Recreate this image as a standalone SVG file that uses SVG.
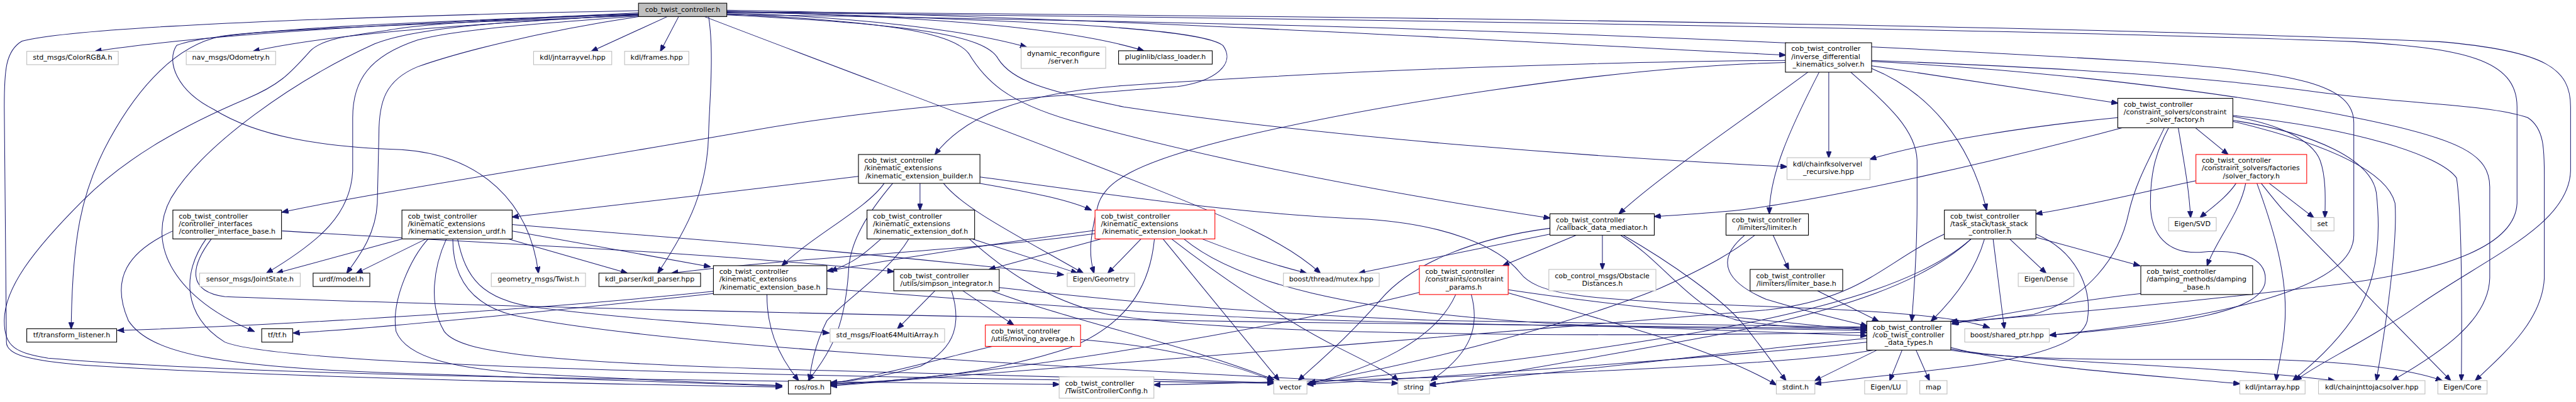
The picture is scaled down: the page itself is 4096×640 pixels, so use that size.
<svg xmlns="http://www.w3.org/2000/svg" width="4096" height="640" viewBox="0 0 4096 640">
<style>
.e{fill:none;stroke:#191970;stroke-width:1.2;marker-end:url(#a)}
.nb{fill:#fff;stroke:#000;stroke-width:1.3}
.ng{fill:#fff;stroke:#bfbfbf;stroke-width:1.3}
.nr{fill:#fff;stroke:#ff0000;stroke-width:1.3}
.nroot{fill:#bfbfbf;stroke:#000;stroke-width:1.3}
text{font-family:"DejaVu Sans","Liberation Sans",sans-serif;font-size:13px;fill:#000}
.c{text-anchor:middle}
</style>
<defs>
<marker id="a" markerWidth="13" markerHeight="10" refX="12" refY="5" orient="auto" markerUnits="userSpaceOnUse"><path d="M0,0 L13,5 L0,10 z" fill="#191970" stroke="#191970" stroke-width="1"/></marker>
</defs>
<rect width="4096" height="640" fill="#fff"/>
<g transform="scale(0.851)">
<g id="edges">
<path class="e" d="M1193,24 C900,38 420,58 178,96"/>
<path class="e" d="M1193,27 C950,42 640,58 473,96"/>
<path class="e" d="M1247,31 L1105,96"/>
<path class="e" d="M1268,31 L1234,96"/>
<path class="e" d="M1358,24 C1600,32 1800,55 1918,88"/>
<path class="e" d="M1358,22 C1750,30 2010,55 2137,95"/>
<path class="e" d="M1358,19 C2100,32 3000,88 3336,103"/>
<path class="e" d="M1358,21 C1900,38 2240,50 2285,85 C2310,120 2270,152 2200,162 C1900,185 1650,200 1400,245 C1000,315 700,360 527,397"/>
<path class="e" d="M1193,30 C1000,45 850,55 780,75 C690,105 659,150 659,220 L659,320 C655,400 600,450 498,511"/>
<path class="e" d="M1193,31 C1000,60 850,100 780,125 C720,150 708,190 708,250 L705,380 C702,440 670,480 648,511"/>
<path class="e" d="M1193,29 C800,45 500,55 413,68 C330,85 260,160 205,260 C150,360 135,450 133,615"/>
<path class="e" d="M1193,28 C950,40 780,50 700,82 C550,150 380,270 320,370 C270,460 330,560 475,620"/>
<path class="e" d="M1193,20 C700,30 150,48 41,77 C10,95 8,133 8,200 L12,640 C12,665 60,675 155,683 C500,705 1100,718 1461,724"/>
<path class="e" d="M1193,27 C950,35 780,45 723,57 C640,68 600,75 580,95 C540,140 520,160 460,185 C330,240 230,300 155,375 C60,470 8,540 8,600 C8,650 30,660 90,670 C500,705 1300,712 1979,719"/>
<path class="e" d="M1193,26 C800,40 400,55 330,85 C310,115 330,170 400,205 C480,255 600,275 750,280 C900,290 990,380 1006,511"/>
<path class="e" d="M1324,31 C1335,100 1325,200 1324,250 C1322,350 1290,420 1229,511"/>
<path class="e" d="M1316,31 C1600,140 1950,270 2150,350 C2300,410 2400,450 2467,511"/>
<path class="e" d="M1358,28 C1700,45 1840,65 1865,110 C1890,150 1950,170 2100,200 C2500,260 3000,295 3339,312"/>
<path class="e" d="M1358,26 C1650,40 1780,60 1810,100 C1840,150 1880,190 2000,225 C2300,310 2650,370 2896,408"/>
<path class="e" d="M1358,23 C2500,35 3800,55 4400,78 C4600,90 4703,110 4703,200 L4703,380 C4700,450 4600,510 4300,540 C4000,575 3800,590 3648,604"/>
<path class="e" d="M1358,27 C2200,40 3000,55 4000,115 C4300,135 4398,160 4398,230 L4398,440 C4398,530 4200,590 3830,627"/>
<path class="e" d="M1358,22 C2500,30 3800,45 4558,78 C4760,95 4803,130 4803,200 L4803,320 C4800,420 4650,480 4520,570 C4420,640 4330,680 4289,712"/>
<path class="e" d="M3336,113 C3000,115 2500,132 2100,160 C1900,175 1800,220 1747,289"/>
<path class="e" d="M3336,117 C3000,125 2550,200 2300,260 C2120,305 2060,340 2050,390 C2035,450 2035,480 2044,511"/>
<path class="e" d="M3417,135 L3417,295"/>
<path class="e" d="M3399,135 C3340,250 3306,330 3306,400"/>
<path class="e" d="M3378,135 C3250,230 3100,330 3025,400"/>
<path class="e" d="M3458,135 C3520,190 3580,240 3582,300 L3582,380 C3582,480 3575,560 3572,601"/>
<path class="e" d="M3497,128 C3600,170 3680,260 3712,393"/>
<path class="e" d="M3497,123 L3957,193"/>
<path class="e" d="M3497,113 C3800,125 4100,140 4336,173 C4500,195 4650,195 4723,220 C4754,240 4754,280 4754,330 L4754,520 C4750,600 4680,660 4625,712"/>
<path class="e" d="M3497,115 C3800,130 4150,170 4400,220 C4600,260 4652,290 4652,350 L4652,520 C4650,600 4560,660 4470,712"/>
<path class="e" d="M3957,220 C3800,235 3600,265 3494,298"/>
<path class="e" d="M3965,239 C3700,310 3400,375 3250,393 C3180,400 3120,403 3091,405"/>
<path class="e" d="M4102,239 L4163,289"/>
<path class="e" d="M4044,239 C4020,290 3990,340 3977,400 C3960,480 3900,560 3800,588 C3730,598 3680,600 3645,601"/>
<path class="e" d="M4052,239 C4025,290 4018,330 4018,380 C4018,440 4050,475 4110,472 C4180,465 4240,480 4232,530 C4220,580 4100,605 3830,627"/>
<path class="e" d="M4070,239 C4080,300 4090,350 4093,407"/>
<path class="e" d="M4172,218 C4250,230 4320,260 4335,300 C4346,330 4345,370 4344,407"/>
<path class="e" d="M4172,225 C4330,250 4430,300 4440,360 C4450,450 4440,530 4400,590 C4360,650 4310,690 4284,712"/>
<path class="e" d="M4172,227 C4350,270 4460,320 4475,380 C4480,450 4460,600 4440,712"/>
<path class="e" d="M4172,216 C4400,240 4560,290 4590,333 C4600,400 4600,600 4599,712"/>
<path class="e" d="M4178,343 C4160,370 4130,390 4111,407"/>
<path class="e" d="M4196,343 C4185,400 4140,450 4124,497"/>
<path class="e" d="M4217,343 C4245,420 4270,500 4270,580 C4270,640 4255,690 4253,712"/>
<path class="e" d="M4225,343 C4240,362 4250,375 4265,392 L4579,712"/>
<path class="e" d="M4240,343 L4323,407"/>
<path class="e" d="M4103,338 C4000,360 3900,385 3804,400"/>
<path class="e" d="M4001,549 C3900,560 3780,580 3647,606"/>
<path class="e" d="M3755,447 L3823,511"/>
<path class="e" d="M3724,447 L3745,615"/>
<path class="e" d="M3708,447 C3690,510 3650,560 3608,601"/>
<path class="e" d="M3683,447 C3600,520 3450,570 3200,617 C2900,670 2600,700 2442,718"/>
<path class="e" d="M3683,447 C3600,525 3450,580 3200,628 C3000,665 2800,700 2671,721"/>
<path class="e" d="M3804,438 C3880,470 3910,540 3900,600 C3880,680 3600,690 3391,718"/>
<path class="e" d="M3804,444 L3998,497"/>
<path class="e" d="M3633,438 C3520,490 3480,560 3300,580 C2800,620 2000,690 1552,722"/>
<path class="e" d="M3645,650 C3800,690 4000,700 4185,718"/>
<path class="e" d="M3645,653 C3800,680 4100,680 4362,712"/>
<path class="e" d="M3645,655 C3800,680 4100,670 4258,673 C4400,678 4500,690 4563,712"/>
<path class="e" d="M3554,655 L3531,712"/>
<path class="e" d="M3580,655 L3605,712"/>
<path class="e" d="M3507,655 L3391,712"/>
<path class="e" d="M3488,633 C3300,650 3000,690 2671,719"/>
<path class="e" d="M3488,640 C3300,660 2800,700 2442,719"/>
<path class="e" d="M3500,655 C3300,690 2600,710 2156,720"/>
<path class="e" d="M2945,440 L2808,497"/>
<path class="e" d="M2994,440 L2994,504"/>
<path class="e" d="M2896,438 L2539,511"/>
<path class="e" d="M2896,427 C2760,445 2640,490 2580,560 C2520,630 2460,680 2426,712"/>
<path class="e" d="M3028,440 C3110,490 3160,580 3250,600 C3350,615 3420,615 3488,612"/>
<path class="e" d="M3033,440 C3120,490 3220,560 3260,610 C3300,660 3320,690 3337,712"/>
<path class="e" d="M2749,551 C2765,610 2750,660 2674,712"/>
<path class="e" d="M2720,551 C2680,640 2560,690 2446,718"/>
<path class="e" d="M2652,547 C2400,610 1900,700 1552,720"/>
<path class="e" d="M2818,542 C3000,570 3300,600 3488,618"/>
<path class="e" d="M2818,548 C3000,600 3200,650 3319,720"/>
<path class="e" d="M3313,440 L3342,504"/>
<path class="e" d="M3260,440 C3200,490 3230,530 3300,560 C3400,590 3450,600 3489,610"/>
<path class="e" d="M3279,440 C3240,470 3200,495 3100,540 C2900,620 2600,690 2446,716"/>
<path class="e" d="M3396,544 L3510,601"/>
<path class="e" d="M2132,447 L2070,511"/>
<path class="e" d="M2057,447 L1848,504"/>
<path class="e" d="M2046,431 C1900,450 1700,480 1545,507"/>
<path class="e" d="M2046,437 C1800,470 1500,480 1255,511"/>
<path class="e" d="M2157,447 C2150,520 2120,600 2000,650 C1850,700 1700,712 1552,718"/>
<path class="e" d="M2173,447 L2390,712"/>
<path class="e" d="M2189,447 C2270,510 2400,600 2500,650 C2560,680 2600,700 2612,712"/>
<path class="e" d="M2212,447 C2300,520 2500,590 3000,610 C3300,620 3420,625 3488,628"/>
<path class="e" d="M2246,447 C2330,480 2380,495 2441,511"/>
<path class="e" d="M1604,330 C1400,355 1100,390 957,406"/>
<path class="e" d="M1719,343 L1719,393"/>
<path class="e" d="M1831,343 C1930,360 2000,375 2039,393"/>
<path class="e" d="M1652,343 C1620,390 1520,440 1461,497"/>
<path class="e" d="M1668,343 C1620,400 1590,450 1586,500 C1580,600 1560,650 1510,712"/>
<path class="e" d="M1763,343 C1800,390 1900,440 2024,511"/>
<path class="e" d="M1831,331 C2050,360 2300,400 2555,410 C2700,420 2800,460 2840,510 C2870,550 2950,560 3210,570 C3500,580 3650,590 3717,613"/>
<path class="e" d="M751,447 L517,511"/>
<path class="e" d="M796,447 L666,511"/>
<path class="e" d="M950,447 L1172,511"/>
<path class="e" d="M957,432 L1327,499"/>
<path class="e" d="M957,420 C1200,440 1600,470 1987,514"/>
<path class="e" d="M800,447 C770,480 730,560 740,620 C760,670 850,690 1000,700 C1200,710 1350,718 1461,721"/>
<path class="e" d="M855,447 C870,520 900,560 1000,575 C1200,600 1400,610 1549,623"/>
<path class="e" d="M834,447 C810,500 800,570 830,620 C860,660 1000,680 1610,695 C2000,705 2300,712 2380,716"/>
<path class="e" d="M846,447 C846,520 880,570 960,590 C1200,640 1800,680 2612,717"/>
<path class="e" d="M527,432 C900,455 1300,470 1670,508"/>
<path class="e" d="M395,447 C355,500 350,545 420,555 C800,570 1600,590 2410,603 C3000,610 3300,612 3488,615"/>
<path class="e" d="M323,432 C240,470 205,520 240,600 C280,660 400,690 810,700 C1100,710 1300,718 1461,722"/>
<path class="e" d="M385,447 C340,510 340,590 420,640 C520,680 1200,700 2380,717"/>
<path class="e" d="M1433,551 C1433,610 1450,660 1492,712"/>
<path class="e" d="M1333,545 C1000,580 500,610 220,618"/>
<path class="e" d="M1333,549 C1100,575 700,615 548,623"/>
<path class="e" d="M1545,540 C1800,560 2200,590 2410,597 C2900,612 3300,615 3488,618"/>
<path class="e" d="M1646,447 C1620,470 1600,490 1552,507"/>
<path class="e" d="M1698,447 C1660,510 1580,560 1545,600 C1520,650 1515,690 1512,712"/>
<path class="e" d="M1817,447 L2013,511"/>
<path class="e" d="M1811,447 C1870,500 1950,560 2065,587 C2300,630 3000,630 3488,622"/>
<path class="e" d="M1747,544 L1677,615"/>
<path class="e" d="M1799,544 L1894,608"/>
<path class="e" d="M1778,544 C1795,600 1790,650 1720,685 C1650,705 1600,712 1552,716"/>
<path class="e" d="M1853,544 C2000,600 2200,640 2380,710"/>
<path class="e" d="M1867,538 C2100,565 2400,590 2700,600 C3100,608 3350,610 3488,612"/>
<path class="e" d="M1854,648 C1780,665 1680,695 1552,718"/>
<path class="e" d="M2019,635 C2200,650 2330,690 2380,714"/>
</g>
<g id="n_root"><rect class="nroot" x="1193" y="6" width="165" height="25"/><text class="c" x="1275.5" y="22">cob_twist_controller.h</text></g>
<g id="n_colorrgba"><rect class="ng" x="50" y="96" width="171" height="25"/><text class="c" x="135.5" y="112">std_msgs/ColorRGBA.h</text></g>
<g id="n_odometry"><rect class="ng" x="348" y="96" width="167" height="25"/><text class="c" x="431.5" y="112">nav_msgs/Odometry.h</text></g>
<g id="n_jntarrayvel"><rect class="ng" x="997" y="96" width="146" height="25"/><text class="c" x="1070" y="112">kdl/jntarrayvel.hpp</text></g>
<g id="n_frames"><rect class="ng" x="1167" y="96" width="120" height="25"/><text class="c" x="1227" y="112">kdl/frames.hpp</text></g>
<g id="n_dynreconf"><rect class="ng" x="1908" y="88" width="158" height="40"/><text x="1919" y="104">dynamic_reconfigure</text><text class="c" x="1987" y="118.5">/server.h</text></g>
<g id="n_pluginlib"><rect class="nb" x="2090" y="95" width="175" height="25"/><text class="c" x="2177.5" y="111">pluginlib/class_loader.h</text></g>
<g id="n_idks"><rect class="nb" x="3336" y="80" width="161" height="55"/><text x="3347" y="95.5">cob_twist_controller</text><text x="3347" y="110">/inverse_differential</text><text class="c" x="3416.5" y="124.5">_kinematics_solver.h</text></g>
<g id="n_chainfk"><rect class="ng" x="3339" y="295" width="155" height="41"/><text x="3350" y="311">kdl/chainfksolvervel</text><text class="c" x="3416.5" y="325.5">_recursive.hpp</text></g>
<g id="n_csfactory"><rect class="nb" x="3957" y="184" width="215" height="55"/><text x="3968" y="199.5">cob_twist_controller</text><text x="3968" y="214">/constraint_solvers/constraint</text><text class="c" x="4064.5" y="228.5">_solver_factory.h</text></g>
<g id="n_solverfactory"><rect class="nr" x="4103" y="289" width="207" height="54"/><text x="4114" y="304.5">cob_twist_controller</text><text x="4114" y="319">/constraint_solvers/factories</text><text class="c" x="4206.5" y="333.5">/solver_factory.h</text></g>
<g id="n_builder"><rect class="nb" x="1604" y="289" width="227" height="54"/><text x="1615" y="304.5">cob_twist_controller</text><text x="1615" y="319">/kinematic_extensions</text><text class="c" x="1717.5" y="333.5">/kinematic_extension_builder.h</text></g>
<g id="n_ctrlif"><rect class="nb" x="323" y="393" width="203" height="54"/><text x="334" y="408.5">cob_twist_controller</text><text x="334" y="423">/controller_interfaces</text><text class="c" x="424.5" y="437.5">/controller_interface_base.h</text></g>
<g id="n_urdfext"><rect class="nb" x="751" y="393" width="206" height="54"/><text x="762" y="408.5">cob_twist_controller</text><text x="762" y="423">/kinematic_extensions</text><text class="c" x="854" y="437.5">/kinematic_extension_urdf.h</text></g>
<g id="n_dof"><rect class="nb" x="1620" y="393" width="201" height="54"/><text x="1631" y="408.5">cob_twist_controller</text><text x="1631" y="423">/kinematic_extensions</text><text class="c" x="1720.5" y="437.5">/kinematic_extension_dof.h</text></g>
<g id="n_lookat"><rect class="nr" x="2046" y="393" width="224" height="54"/><text x="2057" y="408.5">cob_twist_controller</text><text x="2057" y="423">/kinematic_extensions</text><text class="c" x="2158" y="437.5">/kinematic_extension_lookat.h</text></g>
<g id="n_callback"><rect class="nb" x="2896" y="400" width="195" height="40"/><text x="2907" y="416">cob_twist_controller</text><text class="c" x="2993.5" y="430.5">/callback_data_mediator.h</text></g>
<g id="n_limiter"><rect class="nb" x="3225" y="400" width="154" height="40"/><text x="3236" y="416">cob_twist_controller</text><text class="c" x="3302" y="430.5">/limiters/limiter.h</text></g>
<g id="n_taskstack"><rect class="nb" x="3633" y="393" width="171" height="54"/><text x="3644" y="408.5">cob_twist_controller</text><text x="3644" y="423">/task_stack/task_stack</text><text class="c" x="3718.5" y="437.5">_controller.h</text></g>
<g id="n_svd"><rect class="ng" x="4052" y="407" width="89" height="25"/><text class="c" x="4096.5" y="423">Eigen/SVD</text></g>
<g id="n_set"><rect class="ng" x="4318" y="407" width="43" height="25"/><text class="c" x="4339.5" y="423">set</text></g>
<g id="n_jointstate"><rect class="ng" x="373" y="511" width="188" height="25"/><text class="c" x="467" y="527">sensor_msgs/JointState.h</text></g>
<g id="n_urdfmodel"><rect class="nb" x="585" y="511" width="106" height="25"/><text class="c" x="638" y="527">urdf/model.h</text></g>
<g id="n_twist"><rect class="ng" x="918" y="511" width="176" height="25"/><text class="c" x="1006" y="527">geometry_msgs/Twist.h</text></g>
<g id="n_kdlparser"><rect class="nb" x="1119" y="511" width="190" height="25"/><text class="c" x="1214" y="527">kdl_parser/kdl_parser.hpp</text></g>
<g id="n_extbase"><rect class="nb" x="1333" y="497" width="212" height="54"/><text x="1344" y="512.5">cob_twist_controller</text><text x="1344" y="527">/kinematic_extensions</text><text class="c" x="1439" y="541.5">/kinematic_extension_base.h</text></g>
<g id="n_simpson"><rect class="nb" x="1670" y="504" width="197" height="40"/><text x="1681" y="520">cob_twist_controller</text><text class="c" x="1768.5" y="534.5">/utils/simpson_integrator.h</text></g>
<g id="n_geometry"><rect class="ng" x="1994" y="511" width="126" height="25"/><text class="c" x="2057" y="527">Eigen/Geometry</text></g>
<g id="n_mutex"><rect class="ng" x="2398" y="511" width="179" height="25"/><text class="c" x="2487.5" y="527">boost/thread/mutex.hpp</text></g>
<g id="n_cparams"><rect class="nr" x="2652" y="497" width="166" height="54"/><text x="2663" y="512.5">cob_twist_controller</text><text x="2663" y="527">/constraints/constraint</text><text class="c" x="2735" y="541.5">_params.h</text></g>
<g id="n_obstacle"><rect class="ng" x="2894" y="504" width="200" height="40"/><text x="2905" y="520">cob_control_msgs/Obstacle</text><text class="c" x="2994" y="534.5">Distances.h</text></g>
<g id="n_limiterbase"><rect class="nb" x="3270" y="504" width="173" height="40"/><text x="3281" y="520">cob_twist_controller</text><text class="c" x="3356.5" y="534.5">/limiters/limiter_base.h</text></g>
<g id="n_dense"><rect class="ng" x="3771" y="511" width="104" height="25"/><text class="c" x="3823" y="527">Eigen/Dense</text></g>
<g id="n_damping"><rect class="nb" x="4000" y="497" width="209" height="54"/><text x="4011" y="512.5">cob_twist_controller</text><text x="4011" y="527">/damping_methods/damping</text><text class="c" x="4104.5" y="541.5">_base.h</text></g>
<g id="n_tflistener"><rect class="nb" x="50" y="615" width="168" height="25"/><text class="c" x="134" y="631">tf/transform_listener.h</text></g>
<g id="n_tf"><rect class="nb" x="489" y="615" width="58" height="25"/><text class="c" x="518" y="631">tf/tf.h</text></g>
<g id="n_float64"><rect class="ng" x="1551" y="615" width="214" height="25"/><text class="c" x="1658" y="631">std_msgs/Float64MultiArray.h</text></g>
<g id="n_movavg"><rect class="nr" x="1841" y="608" width="178" height="40"/><text x="1852" y="624">cob_twist_controller</text><text class="c" x="1930" y="638.5">/utils/moving_average.h</text></g>
<g id="n_datatypes"><rect class="nb" x="3488" y="601" width="157" height="54"/><text x="3499" y="616.5">cob_twist_controller</text><text x="3499" y="631">/cob_twist_controller</text><text class="c" x="3566.5" y="645.5">_data_types.h</text></g>
<g id="n_sharedptr"><rect class="ng" x="3671" y="615" width="158" height="25"/><text class="c" x="3750" y="631">boost/shared_ptr.hpp</text></g>
<g id="n_ros"><rect class="nb" x="1473" y="712" width="79" height="25"/><text class="c" x="1512.5" y="728">ros/ros.h</text></g>
<g id="n_twistconfig"><rect class="ng" x="1979" y="705" width="177" height="40"/><text x="1990" y="721">cob_twist_controller</text><text class="c" x="2067.5" y="735.5">/TwistControllerConfig.h</text></g>
<g id="n_vector"><rect class="ng" x="2380" y="712" width="62" height="25"/><text class="c" x="2411" y="728">vector</text></g>
<g id="n_string"><rect class="ng" x="2612" y="712" width="59" height="25"/><text class="c" x="2641.5" y="728">string</text></g>
<g id="n_stdint"><rect class="ng" x="3319" y="712" width="72" height="25"/><text class="c" x="3355" y="728">stdint.h</text></g>
<g id="n_lu"><rect class="ng" x="3484" y="712" width="79" height="25"/><text class="c" x="3523.5" y="728">Eigen/LU</text></g>
<g id="n_map"><rect class="ng" x="3587" y="712" width="51" height="25"/><text class="c" x="3612.5" y="728">map</text></g>
<g id="n_jntarray"><rect class="ng" x="4185" y="712" width="122" height="25"/><text class="c" x="4246" y="728">kdl/jntarray.hpp</text></g>
<g id="n_jacsolver"><rect class="ng" x="4332" y="712" width="199" height="25"/><text class="c" x="4431.5" y="728">kdl/chainjnttojacsolver.hpp</text></g>
<g id="n_core"><rect class="ng" x="4555" y="712" width="92" height="25"/><text class="c" x="4601" y="728">Eigen/Core</text></g>
</g>
</svg>
